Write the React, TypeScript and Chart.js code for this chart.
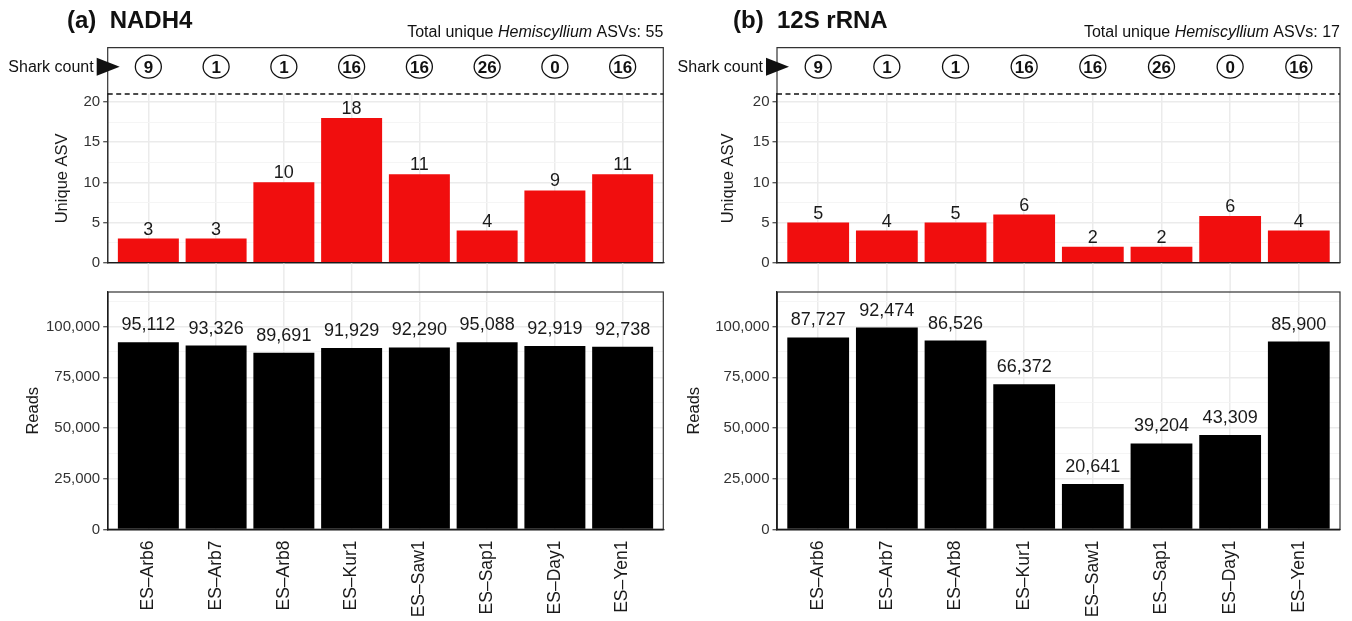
import { useEffect, useRef } from 'react';
import { Chart, registerables } from 'chart.js';

Chart.register(...registerables);

const FONT = '"Liberation Sans", Arial, Helvetica, sans-serif';
const RED = '#F10E0E';
const GRID_MAJOR = '#EBEBEB';
const GRID_MINOR = '#F4F4F4';
const AXIS = '#1A1A1A';
const BORDER = '#333333';
const TEXT = '#1A1A1A';
const TICK_TEXT = '#333333';

// ---------------- data ----------------
const sites = ['ES–Arb6', 'ES–Arb7', 'ES–Arb8', 'ES–Kur1', 'ES–Saw1', 'ES–Sap1', 'ES–Day1', 'ES–Yen1'];
const sharkCounts = [9, 1, 1, 16, 16, 26, 0, 16];

const nadh4UniqueAsv = [3, 3, 10, 18, 11, 4, 9, 11];
const nadh4AsvLabels = ['3', '3', '10', '18', '11', '4', '9', '11'];
const nadh4Reads = [92300, 90600, 87100, 89400, 89700, 92300, 90400, 90000];
const nadh4ReadLabels = ['95,112', '93,326', '89,691', '91,929', '92,290', '95,088', '92,919', '92,738'];
const nadh4TotalAsv = 55;

const rrnaUniqueAsv = [5, 4, 5, 6, 2, 2, 5.8, 4];
const rrnaAsvLabels = ['5', '4', '5', '6', '2', '2', '6', '4'];
const rrnaReads = [94600, 99500, 93100, 71500, 22400, 42400, 46600, 92600];
const rrnaReadLabels = ['87,727', '92,474', '86,526', '66,372', '20,641', '39,204', '43,309', '85,900'];
const rrnaTotalAsv = 17;

const asvTicks = [0, 2.5, 5, 7.5, 10, 12.5, 15, 17.5, 20];
const readTicks = [0, 12500, 25000, 37500, 50000, 62500, 75000, 87500, 100000, 112500];
const asvMax = 21;
const sharkRowLevel = 24.4;
const readMax = 117000;

// ---------------- layout ----------------
const W = 676;
const TOP_H = 300;
const BOT_TOP = 280;
const BOT_H = 341;
const BOX_TOP = 47.7;
const ASV_TOP = 94;
const ASV_BOTTOM = 262.7;
const READ_TOP = 291.5;
const READ_BOTTOM = 529.5;

type Spec = {
  x0: number;
  plotLeft: number;
  plotRight: number;
  titleX: number;
  tag: string;
  gene: string;
  total: number;
  asv: number[];
  asvLabels: string[];
  reads: number[];
  readLabels: string[];
  asvTitleX: number;
  readsTitleX: number;
};

const panels: Spec[] = [
  {
    x0: 0, plotLeft: 107.7, plotRight: 663.3, titleX: 67, tag: '(a)', gene: 'NADH4', total: nadh4TotalAsv,
    asv: nadh4UniqueAsv, asvLabels: nadh4AsvLabels, reads: nadh4Reads, readLabels: nadh4ReadLabels,
    asvTitleX: 62, readsTitleX: 33,
  },
  {
    x0: 676, plotLeft: 777, plotRight: 1340, titleX: 733, tag: '(b)', gene: '12S rRNA', total: rrnaTotalAsv,
    asv: rrnaUniqueAsv, asvLabels: rrnaAsvLabels, reads: rrnaReads, readLabels: rrnaReadLabels,
    asvTitleX: 728, readsTitleX: 694,
  },
];

const AXIS_TITLE_SIZE = 16.5;
const AXIS_TITLE_LH = AXIS_TITLE_SIZE * 1.2;

function Panel({ spec }: { spec: Spec }) {
  const topRef = useRef<HTMLCanvasElement>(null);
  const botRef = useRef<HTMLCanvasElement>(null);

  useEffect(() => {
    const L = spec.plotLeft - spec.x0;
    const R = spec.plotRight - spec.x0;

    const xScaleBase = (labels: boolean): any => ({
      type: 'linear',
      min: -0.6,
      max: 7.6,
      offset: false,
      afterBuildTicks: (a: any) => {
        a.ticks = sites.map((_, i) => ({ value: i }));
      },
      ticks: labels
        ? {
            display: true,
            autoSkip: false,
            minRotation: 90,
            maxRotation: 90,
            padding: 11,
            color: TEXT,
            font: { family: FONT, size: 17.5 },
            callback: (v: number) => sites[v] ?? '',
          }
        : { display: false },
      grid: { offset: false, color: GRID_MAJOR, lineWidth: 1.5, drawTicks: false },
      border: { display: true, color: AXIS, width: 1.3 },
    });

    const topPlugin = {
      id: 'topDecor',
      afterDatasetsDraw(chart: any) {
        const { ctx, chartArea: a } = chart;
        const meta = chart.getDatasetMeta(0);
        ctx.save();
        ctx.font = `18px ${FONT}`;
        ctx.fillStyle = TEXT;
        ctx.textAlign = 'center';
        ctx.textBaseline = 'alphabetic';
        meta.data.forEach((bar: any, i: number) => {
          ctx.fillText(spec.asvLabels[i], bar.x, bar.y - 4);
        });
        ctx.strokeStyle = AXIS;
        ctx.lineWidth = 1.3;
        ctx.beginPath();
        ctx.moveTo(a.left, a.bottom);
        ctx.lineTo(a.right, a.bottom);
        ctx.stroke();
        ctx.restore();
      },
      afterDraw(chart: any) {
        const { ctx, chartArea: a, scales } = chart;
        const xs = scales.x;
        const ys = scales.y;
        ctx.save();
        // grid continuing through the gap between the two panels
        ctx.strokeStyle = GRID_MAJOR;
        ctx.lineWidth = 1.5;
        for (let i = 0; i < sites.length; i++) {
          const px = xs.getPixelForValue(i);
          ctx.beginPath();
          ctx.moveTo(px, a.bottom + 0.7);
          ctx.lineTo(px, READ_TOP);
          ctx.stroke();
        }
        // box around shark count row + panel
        ctx.strokeStyle = BORDER;
        ctx.lineWidth = 1.2;
        ctx.beginPath();
        ctx.moveTo(a.left, a.bottom);
        ctx.lineTo(a.left, BOX_TOP);
        ctx.lineTo(a.right, BOX_TOP);
        ctx.lineTo(a.right, a.bottom);
        ctx.stroke();
        // dashed line
        const dy = ys.getPixelForValue(asvMax);
        ctx.strokeStyle = '#111111';
        ctx.lineWidth = 1.3;
        ctx.setLineDash([5, 3.5]);
        ctx.beginPath();
        ctx.moveTo(a.left, dy);
        ctx.lineTo(a.right, dy);
        ctx.stroke();
        ctx.setLineDash([]);
        // shark count circles
        const cy = ys.getPixelForValue(sharkRowLevel);
        ctx.lineWidth = 1.3;
        ctx.strokeStyle = '#111111';
        ctx.fillStyle = '#111111';
        ctx.textAlign = 'center';
        ctx.textBaseline = 'alphabetic';
        ctx.font = `bold 17px ${FONT}`;
        sharkCounts.forEach((n, i) => {
          const px = xs.getPixelForValue(i);
          ctx.beginPath();
          ctx.ellipse(px, cy, 13, 11.5, 0, 0, Math.PI * 2);
          ctx.stroke();
          ctx.fillText(String(n), px, cy + 6);
        });
        // "Shark count" with arrow
        ctx.font = `16px ${FONT}`;
        ctx.textAlign = 'right';
        ctx.fillText('Shark count', L - 14, cy + 5.5);
        ctx.beginPath();
        ctx.moveTo(L - 11, cy - 9);
        ctx.lineTo(L - 11, cy + 9);
        ctx.lineTo(L + 12, cy);
        ctx.closePath();
        ctx.fill();
        // title
        ctx.textAlign = 'left';
        ctx.font = `bold 24px ${FONT}`;
        ctx.fillText(`${spec.tag}  ${spec.gene}`, spec.titleX - spec.x0, 28);
        // subtitle with italic genus
        const parts = [
          { t: 'Total unique ', f: `16px ${FONT}` },
          { t: 'Hemiscyllium', f: `italic 16px ${FONT}` },
          { t: ` ASVs: ${spec.total}`, f: `16px ${FONT}` },
        ];
        let tw = 0;
        parts.forEach((p) => {
          ctx.font = p.f;
          tw += ctx.measureText(p.t).width;
        });
        let sx = R - tw;
        parts.forEach((p) => {
          ctx.font = p.f;
          ctx.fillText(p.t, sx, 37);
          sx += ctx.measureText(p.t).width;
        });
        ctx.restore();
      },
    };

    const top = new Chart(topRef.current as HTMLCanvasElement, {
      type: 'bar',
      data: {
        datasets: [
          {
            data: spec.asv.map((v, i) => ({ x: i, y: v })) as any,
            backgroundColor: RED,
            borderWidth: 0,
            barPercentage: 0.9,
            categoryPercentage: 1,
          },
        ],
      },
      plugins: [topPlugin],
      options: {
        animation: false,
        responsive: false,
        devicePixelRatio: 1,
        layout: { padding: { left: 0, right: W - R, top: ASV_TOP, bottom: TOP_H - ASV_BOTTOM } },
        plugins: { legend: { display: false }, tooltip: { enabled: false }, title: { display: false } },
        scales: {
          x: { ...xScaleBase(false), afterFit: (a: any) => { a.height = 0; } },
          y: {
            min: 0,
            max: asvMax,
            afterBuildTicks: (a: any) => {
              a.ticks = asvTicks.map((v) => ({ value: v }));
            },
            ticks: {
              autoSkip: false,
              padding: 3,
              color: TICK_TEXT,
              font: { family: FONT, size: 15 },
              callback: (v: any) => (Number(v) % 5 === 0 ? String(v) : ''),
            },
            grid: {
              color: (c: any) => (c.tick && c.tick.value % 5 === 0 ? GRID_MAJOR : GRID_MINOR),
              lineWidth: (c: any) => (c.tick && c.tick.value % 5 === 0 ? 1.5 : 0.9),
              tickColor: (c: any) => (c.tick && c.tick.value % 5 === 0 ? BORDER : 'rgba(0,0,0,0)'),
              tickLength: 4.5,
              tickWidth: 1.1,
            },
            border: { display: true, color: AXIS, width: 1.3 },
            title: {
              display: true,
              text: 'Unique ASV',
              color: TEXT,
              font: { family: FONT, size: AXIS_TITLE_SIZE },
              padding: { top: spec.asvTitleX - spec.x0 - AXIS_TITLE_LH / 2, bottom: 0 },
            },
            afterFit: (a: any) => {
              a.width = L;
            },
          } as any,
        },
      } as any,
    });

    const botPlugin = {
      id: 'botDecor',
      afterDatasetsDraw(chart: any) {
        const { ctx, chartArea: a } = chart;
        const meta = chart.getDatasetMeta(0);
        ctx.save();
        ctx.font = `18px ${FONT}`;
        ctx.fillStyle = TEXT;
        ctx.textAlign = 'center';
        ctx.textBaseline = 'alphabetic';
        meta.data.forEach((bar: any, i: number) => {
          ctx.fillText(spec.readLabels[i], bar.x, bar.y - 12);
        });
        ctx.strokeStyle = BORDER;
        ctx.lineWidth = 1.2;
        ctx.strokeRect(a.left, a.top, a.right - a.left, a.bottom - a.top);
        ctx.strokeStyle = AXIS;
        ctx.lineWidth = 1.3;
        ctx.beginPath();
        ctx.moveTo(a.left, a.top);
        ctx.lineTo(a.left, a.bottom);
        ctx.lineTo(a.right, a.bottom);
        ctx.stroke();
        ctx.restore();
      },
    };

    const bot = new Chart(botRef.current as HTMLCanvasElement, {
      type: 'bar',
      data: {
        datasets: [
          {
            data: spec.reads.map((v, i) => ({ x: i, y: v })) as any,
            backgroundColor: '#000000',
            borderWidth: 0,
            barPercentage: 0.9,
            categoryPercentage: 1,
          },
        ],
      },
      plugins: [botPlugin],
      options: {
        animation: false,
        responsive: false,
        devicePixelRatio: 1,
        layout: { padding: { left: 0, right: W - R, top: READ_TOP - BOT_TOP, bottom: 0 } },
        plugins: { legend: { display: false }, tooltip: { enabled: false }, title: { display: false } },
        scales: {
          x: { ...xScaleBase(true), afterFit: (a: any) => { a.height = BOT_TOP + BOT_H - READ_BOTTOM; } },
          y: {
            min: 0,
            max: readMax,
            afterBuildTicks: (a: any) => {
              a.ticks = readTicks.map((v) => ({ value: v }));
            },
            ticks: {
              autoSkip: false,
              padding: 3,
              color: TICK_TEXT,
              font: { family: FONT, size: 15 },
              callback: (v: any) => (Number(v) % 25000 === 0 ? Number(v).toLocaleString('en-US') : ''),
            },
            grid: {
              color: (c: any) => (c.tick && c.tick.value % 25000 === 0 ? GRID_MAJOR : GRID_MINOR),
              lineWidth: (c: any) => (c.tick && c.tick.value % 25000 === 0 ? 1.5 : 0.9),
              tickColor: (c: any) => (c.tick && c.tick.value % 25000 === 0 ? BORDER : 'rgba(0,0,0,0)'),
              tickLength: 4.5,
              tickWidth: 1.1,
            },
            border: { display: true, color: AXIS, width: 1.3 },
            title: {
              display: true,
              text: 'Reads',
              color: TEXT,
              font: { family: FONT, size: AXIS_TITLE_SIZE },
              padding: { top: spec.readsTitleX - spec.x0 - AXIS_TITLE_LH / 2, bottom: 0 },
            },
            afterFit: (a: any) => {
              a.width = L;
            },
          } as any,
        },
      } as any,
    });

    return () => {
      top.destroy();
      bot.destroy();
    };
  }, [spec]);

  return (
    <>
      <canvas
        ref={topRef}
        width={W}
        height={TOP_H}
        style={{ position: 'absolute', left: spec.x0, top: 0, width: W, height: TOP_H }}
      />
      <canvas
        ref={botRef}
        width={W}
        height={BOT_H}
        style={{ position: 'absolute', left: spec.x0, top: BOT_TOP, width: W, height: BOT_H }}
      />
    </>
  );
}

export default function App() {
  return (
    <div
      style={{
        position: 'absolute',
        left: 0,
        top: 0,
        width: 1352,
        height: 621,
        background: '#ffffff',
        overflow: 'hidden',
      }}
    >
      {panels.map((p) => (
        <Panel key={p.tag} spec={p} />
      ))}
    </div>
  );
}
